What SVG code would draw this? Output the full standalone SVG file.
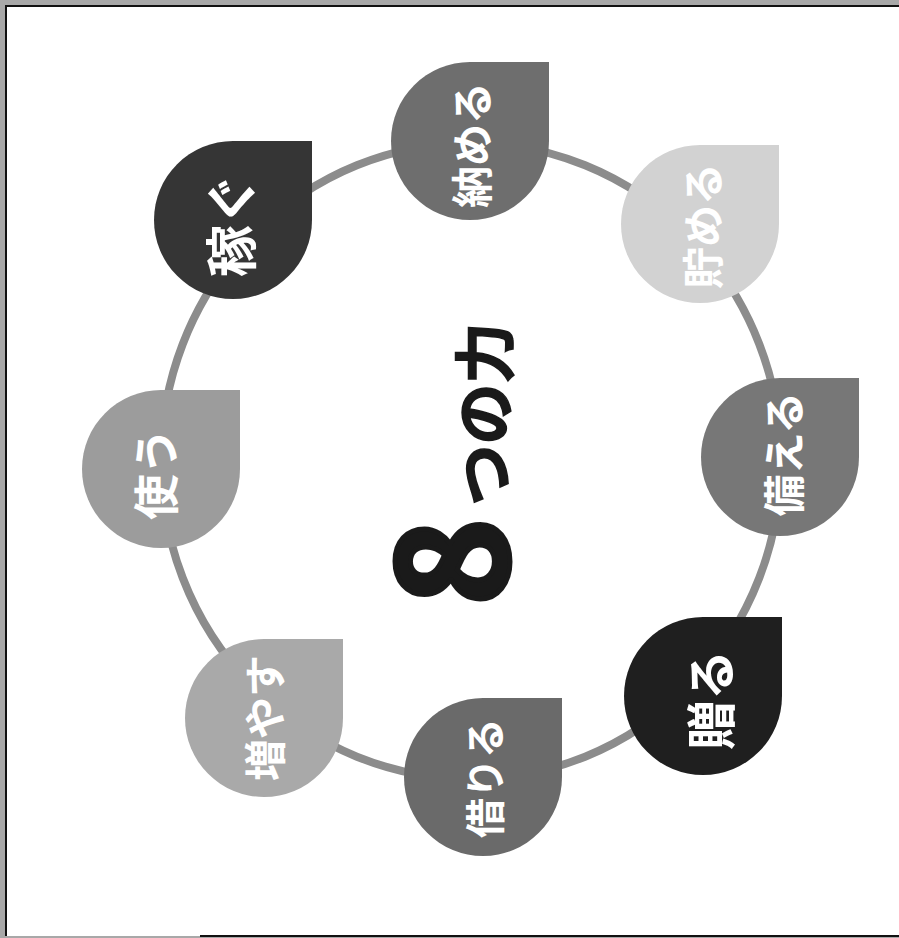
<svg xmlns="http://www.w3.org/2000/svg" width="899" height="938" viewBox="0 0 899 938">
<style>
.lbl{font-family:"Noto Sans CJK JP","Noto Sans",sans-serif;font-weight:bold;fill:#fff;text-anchor:middle;dominant-baseline:central}
.ring{fill:none;stroke:#8c8c8c;stroke-width:8}
.title{font-family:"Noto Sans CJK JP","Noto Sans",sans-serif;font-weight:bold;fill:#1a1a1a}
</style>
<defs>
<path id="drop" d="M0,-79 L79,-79 L79,0 A79,79 0 0 1 0,79 A79,79 0 0 1 -79,0 A79,79 0 0 1 0,-79 Z"/>
</defs>
<rect width="899" height="938" fill="#a8a8a8"/>
<rect x="6" y="6" width="893" height="930" fill="#fff"/>
<path d="M6,936 L6,6 L899,6" fill="none" stroke="#111" stroke-width="2"/>
<path d="M200,936 L899,936" fill="none" stroke="#111" stroke-width="2"/>
<g id="connectors">
<ellipse class="ring" cx="471" cy="461" rx="310" ry="318"/>
</g>
<g id="node-osameru"><use href="#drop" x="470" y="141" fill="#6e6e6e"/><text class="lbl" font-size="42" transform="translate(469,145) rotate(-90)">納める</text></g>
<g id="node-tameru"><use href="#drop" x="700" y="224" fill="#d2d2d2"/><text class="lbl" font-size="42" transform="translate(700,226) rotate(-90)">貯める</text></g>
<g id="node-sonaeru"><use href="#drop" x="780" y="457" fill="#777777"/><text class="lbl" font-size="42" transform="translate(781,454) rotate(-90)">備える</text></g>
<g id="node-okuru"><use href="#drop" x="703" y="696" fill="#1f1f1f"/><text class="lbl" font-size="50" transform="translate(708,700) rotate(-90)">贈る</text></g>
<g id="node-kariru"><use href="#drop" x="483" y="777" fill="#6a6a6a"/><text class="lbl" font-size="40" transform="translate(483,778) rotate(-90)">借りる</text></g>
<g id="node-fuyasu"><use href="#drop" x="264" y="718" fill="#a9a9a9"/><text class="lbl" font-size="42" transform="translate(262,718) rotate(-90)">増やす</text></g>
<g id="node-tsukau"><use href="#drop" x="161" y="469" fill="#9c9c9c"/><text class="lbl" font-size="46" transform="translate(153,474) rotate(-90)">使う</text></g>
<g id="node-kasegu"><use href="#drop" x="233" y="220" fill="#353535"/><text class="lbl" font-size="52" transform="translate(228,225) rotate(-90)">稼ぐ</text></g>
<g id="title"><text class="title" transform="translate(508,606) rotate(-90)"><tspan font-size="150" stroke="#1a1a1a" stroke-width="5">8</tspan><tspan font-size="61" dx="12" stroke="#1a1a1a" stroke-width="1.5">つの力</tspan></text></g>
</svg>
